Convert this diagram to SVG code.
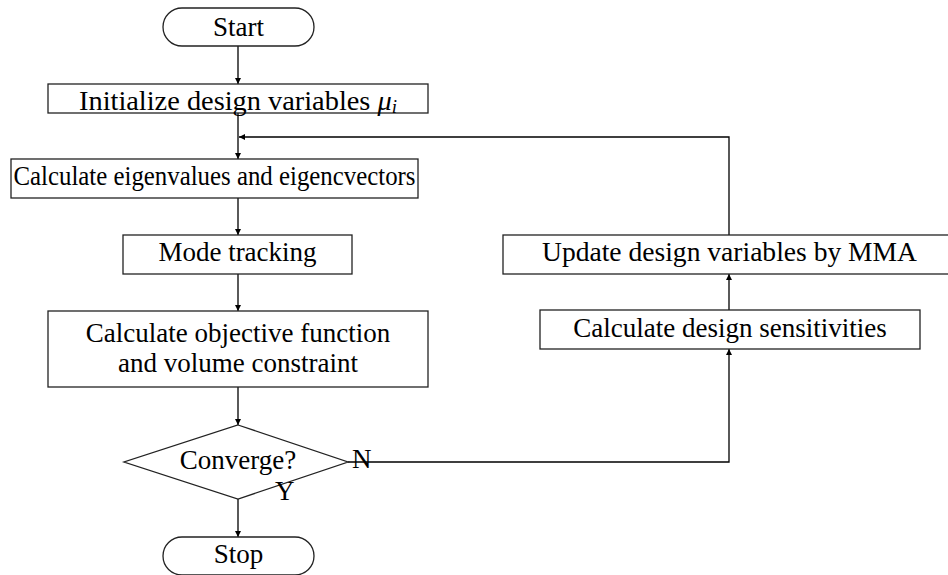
<svg xmlns="http://www.w3.org/2000/svg" width="948" height="575" viewBox="0 0 948 575">
  <defs>
    <marker id="arrow" viewBox="0 0 10 10" refX="10" refY="5" markerWidth="6" markerHeight="10" markerUnits="userSpaceOnUse" orient="auto">
      <path d="M0,0 L10,5 L0,10 Z" fill="#000"/>
    </marker>
    <style>
      .box { fill: #fff; stroke: #222; stroke-width: 1.3; }
      .lbl { font-family: "Liberation Serif", "Times New Roman", serif; font-size: 27px; fill: #000; text-anchor: middle; }
      .tag { font-family: "Liberation Serif", "Times New Roman", serif; font-size: 27px; fill: #000; }
      .wire { fill: none; stroke: #000; stroke-width: 1.3; }
    </style>
  </defs>
  <rect width="948" height="575" fill="#fff"/>

  <g id="connectors">
    <line class="wire" x1="238" y1="46" x2="238" y2="84" marker-end="url(#arrow)"/>
    <line class="wire" x1="238" y1="113" x2="238" y2="159" marker-end="url(#arrow)"/>
    <polyline class="wire" points="729,235 729,137 239,137" marker-end="url(#arrow)"/>
    <line class="wire" x1="238" y1="198" x2="238" y2="235" marker-end="url(#arrow)"/>
    <line class="wire" x1="238" y1="274" x2="238" y2="311" marker-end="url(#arrow)"/>
    <line class="wire" x1="238" y1="387" x2="238" y2="425" marker-end="url(#arrow)"/>
    <line class="wire" x1="238" y1="499" x2="238" y2="537" marker-end="url(#arrow)"/>
    <polyline class="wire" points="348,462 729,462 729,349" marker-end="url(#arrow)"/>
    <line class="wire" x1="729" y1="310" x2="729" y2="274" marker-end="url(#arrow)"/>
  </g>

  <g id="start">
    <rect class="box" x="163" y="8" width="151" height="38" rx="19" ry="19"/>
    <text class="lbl" x="238.5" y="36">Start</text>
  </g>

  <g id="init">
    <rect class="box" x="48" y="84" width="380" height="29"/>
    <text class="lbl" x="238" y="110" textLength="318" lengthAdjust="spacingAndGlyphs">Initialize design variables <tspan font-style="italic">μ</tspan><tspan font-style="italic" font-size="18px" dy="3">i</tspan></text>
  </g>

  <g id="eigen">
    <rect class="box" x="11" y="159" width="407" height="39"/>
    <text class="lbl" x="214.5" y="185" textLength="402" lengthAdjust="spacingAndGlyphs">Calculate eigenvalues and eigencvectors</text>
  </g>

  <g id="tracking">
    <rect class="box" x="123" y="235" width="229" height="39"/>
    <text class="lbl" x="237.5" y="261">Mode tracking</text>
  </g>

  <g id="objective">
    <rect class="box" x="48" y="311" width="380" height="76"/>
    <text class="lbl" x="238" y="342">Calculate objective function</text>
    <text class="lbl" x="238" y="372">and volume constraint</text>
  </g>

  <g id="converge">
    <polygon class="box" points="238,425 348,462 238,499 124,462"/>
    <text class="lbl" x="238" y="469">Converge?</text>
    <text class="tag" x="352" y="468">N</text>
    <text class="tag" x="275" y="500">Y</text>
  </g>

  <g id="stop">
    <rect class="box" x="163" y="537" width="151" height="38" rx="19" ry="19"/>
    <text class="lbl" x="238.5" y="563">Stop</text>
  </g>

  <g id="update">
    <rect class="box" x="503" y="235" width="453" height="39"/>
    <text class="lbl" x="729.5" y="261" textLength="375" lengthAdjust="spacingAndGlyphs">Update design variables by MMA</text>
  </g>

  <g id="sensitivities">
    <rect class="box" x="540" y="310" width="380" height="39"/>
    <text class="lbl" x="730" y="337">Calculate design sensitivities</text>
  </g>
</svg>
